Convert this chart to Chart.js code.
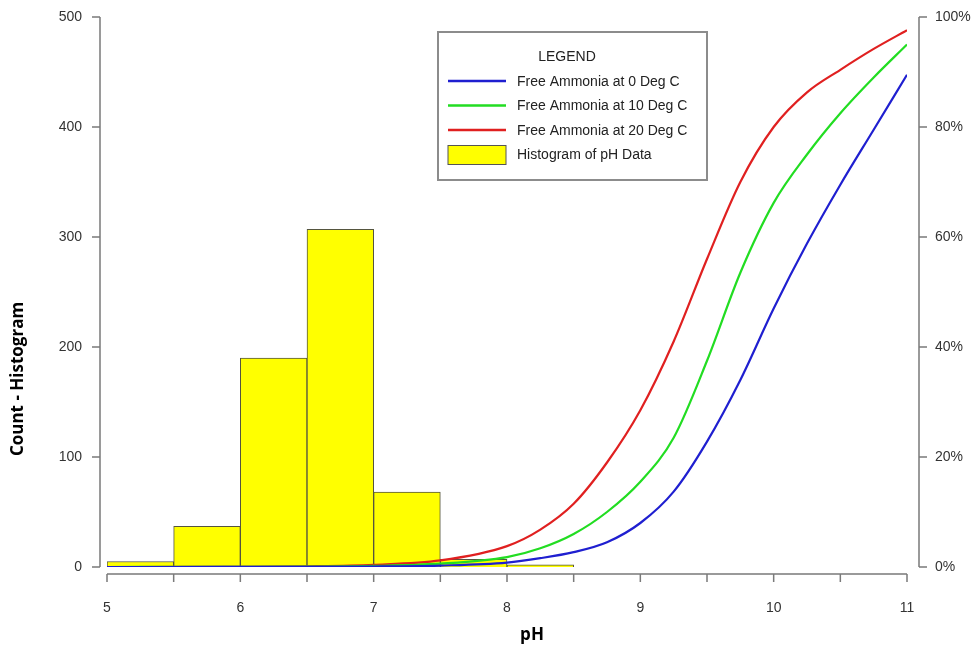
<!DOCTYPE html>
<html>
<head>
<meta charset="utf-8">
<script src="https://cdn.jsdelivr.net/npm/chart.js@4.4.1/dist/chart.umd.min.js"></script>
<style>
  html, body { margin: 0; padding: 0; background: #fff; overflow: hidden; }
  #chart { display: block; }
</style>
</head>
<body>
<canvas id="chart" width="977" height="651"></canvas>
<script>
// histogram of pH readings (bin start, width 0.5)
const binStarts = [5, 5.5, 6, 6.5, 7, 7.5, 8];
const binCounts = [5, 37, 190, 307, 68, 7, 2];

// free ammonia fraction (%)
const phPoints = [5, 5.5, 6, 6.5, 7, 7.5, 8, 8.25, 8.5, 8.75, 9, 9.25, 9.5, 9.75, 10, 10.25, 10.5, 10.75, 11];
const free0C  = [0, 0, 0.01, 0.03, 0.08, 0.26, 0.8, 1.6, 2.7, 4.5, 8, 13.7, 22.8, 34, 47, 58.8, 69.5, 79.5, 89.5];
const free10C = [0, 0.01, 0.02, 0.06, 0.19, 0.6, 1.8, 3.4, 6, 10, 15.5, 23.5, 37.5, 53.5, 66.2, 75, 82.5, 89, 95];
const free20C = [0, 0.01, 0.04, 0.13, 0.4, 1.2, 3.8, 6.8, 11.5, 19, 28.5, 41, 56, 70, 80, 86.3, 90.4, 94.2, 97.6];

const countTicks = [0, 100, 200, 300, 400, 500];
const pctTicks = [0, 20, 40, 60, 80, 100];

const BIN_W = 0.5;
const AXIS_GREY = '#7a7a7a';
const TICK_FONT = { family: 'Liberation Sans, Arial, sans-serif', size: 14 };

function curve(vals) {
  return phPoints.map((p, i) => ({ x: p, y: vals[i] }));
}

function noPad(s) {
  s.paddingTop = 0;
  s.paddingBottom = 0;
  s.paddingLeft = 0;
  s.paddingRight = 0;
}

// R-style detached axes, titles and the boxed legend
const decorPlugin = {
  id: 'decor',
  afterDraw(chart) {
    const ctx = chart.ctx;
    const { x, y, y2 } = chart.scales;
    const area = chart.chartArea;
    ctx.save();
    ctx.strokeStyle = AXIS_GREY;
    ctx.lineWidth = 1.5;

    // bottom axis
    const ax = area.bottom + 7;
    ctx.beginPath();
    ctx.moveTo(x.getPixelForValue(5), ax);
    ctx.lineTo(x.getPixelForValue(11), ax);
    for (let v = 5; v <= 11.001; v += 0.5) {
      const px = x.getPixelForValue(v);
      ctx.moveTo(px, ax);
      ctx.lineTo(px, ax + 8);
    }
    ctx.stroke();

    // left axis
    const lx = area.left - 7;
    ctx.beginPath();
    ctx.moveTo(lx, y.getPixelForValue(0));
    ctx.lineTo(lx, y.getPixelForValue(500));
    countTicks.forEach(v => {
      const py = y.getPixelForValue(v);
      ctx.moveTo(lx, py);
      ctx.lineTo(lx - 8, py);
    });
    ctx.stroke();

    // right axis
    const rx = area.right + 12;
    ctx.beginPath();
    ctx.moveTo(rx, y2.getPixelForValue(0));
    ctx.lineTo(rx, y2.getPixelForValue(100));
    pctTicks.forEach(v => {
      const py = y2.getPixelForValue(v);
      ctx.moveTo(rx, py);
      ctx.lineTo(rx + 8, py);
    });
    ctx.stroke();

    // axis titles
    ctx.fillStyle = '#000';
    ctx.font = 'bold 17px "Open Sans", sans-serif';
    ctx.textAlign = 'center';
    ctx.textBaseline = 'middle';
    ctx.fillText('pH', 532, 635);
    ctx.translate(18, 379);
    ctx.rotate(-Math.PI / 2);
    ctx.fillText('Count - Histogram', 0, 0);
    ctx.setTransform(1, 0, 0, 1, 0, 0);

    // legend box
    const bx = 438, by = 32, bw = 269, bh = 148;
    ctx.fillStyle = '#fff';
    ctx.fillRect(bx, by, bw, bh);
    ctx.strokeStyle = '#8c8c8c';
    ctx.lineWidth = 2;
    ctx.strokeRect(bx, by, bw, bh);

    ctx.fillStyle = '#222';
    ctx.font = '14px "Liberation Sans", Arial, sans-serif';
    ctx.textAlign = 'center';
    ctx.fillText('LEGEND', 567, 57);

    const ds = chart.data.datasets;
    const entries = [ds[1], ds[2], ds[3], ds[0]];
    ctx.textAlign = 'left';
    entries.forEach((d, i) => {
      const ey = 81 + i * 24.5;
      if (d.type === 'line') {
        ctx.strokeStyle = d.borderColor;
        ctx.lineWidth = 2.5;
        ctx.beginPath();
        ctx.moveTo(448, ey);
        ctx.lineTo(506, ey);
        ctx.stroke();
      } else {
        ctx.fillStyle = d.backgroundColor;
        ctx.fillRect(448, ey - 9, 58, 19);
        ctx.strokeStyle = '#555';
        ctx.lineWidth = 1;
        ctx.strokeRect(448, ey - 9, 58, 19);
      }
      ctx.fillStyle = '#222';
      ctx.fillText(d.label, 517, ey + 1);
    });
    ctx.restore();
  }
};

new Chart(document.getElementById('chart'), {
  type: 'bar',
  data: {
    datasets: [
      {
        type: 'bar',
        label: 'Histogram of pH Data',
        data: binStarts.map((s, i) => ({ x: s + BIN_W / 2, y: binCounts[i] })),
        backgroundColor: '#ffff00',
        borderColor: '#55553f',
        borderWidth: 1,
        barPercentage: 1,
        categoryPercentage: 1,
        yAxisID: 'y',
        order: 2
      },
      {
        type: 'line',
        label: 'Free Ammonia at 0 Deg C',
        data: curve(free0C),
        borderColor: '#1f1fd0',
        borderWidth: 2.2,
        pointRadius: 0,
        cubicInterpolationMode: 'monotone',
        yAxisID: 'y2',
        order: 1
      },
      {
        type: 'line',
        label: 'Free Ammonia at 10 Deg C',
        data: curve(free10C),
        borderColor: '#22dd22',
        borderWidth: 2.2,
        pointRadius: 0,
        cubicInterpolationMode: 'monotone',
        yAxisID: 'y2',
        order: 1
      },
      {
        type: 'line',
        label: 'Free Ammonia at 20 Deg C',
        data: curve(free20C),
        borderColor: '#e02020',
        borderWidth: 2.2,
        pointRadius: 0,
        cubicInterpolationMode: 'monotone',
        yAxisID: 'y2',
        order: 1
      }
    ]
  },
  options: {
    responsive: false,
    animation: false,
    maintainAspectRatio: false,
    layout: { padding: { top: 17, left: 0, right: 0, bottom: 0 } },
    plugins: {
      legend: { display: false },
      tooltip: { enabled: false }
    },
    scales: {
      x: {
        type: 'linear',
        min: 5,
        max: 11,
        offset: false,
        grid: { display: false, drawTicks: false },
        border: { display: false },
        ticks: { stepSize: 1, padding: 33, color: '#333', font: TICK_FONT, maxRotation: 0 },
        afterFit(s) { s.height = 84; noPad(s); }
      },
      y: {
        position: 'left',
        min: 0,
        max: 500,
        grid: { display: false, drawTicks: false },
        border: { display: false },
        ticks: { stepSize: 100, padding: 25, color: '#333', font: TICK_FONT },
        afterFit(s) { s.width = 107; noPad(s); }
      },
      y2: {
        position: 'right',
        min: 0,
        max: 100,
        grid: { display: false, drawTicks: false },
        border: { display: false },
        ticks: { stepSize: 20, padding: 28, color: '#333', font: TICK_FONT, callback: v => v + '%' },
        afterFit(s) { s.width = 70; noPad(s); }
      }
    }
  },
  plugins: [decorPlugin]
});
</script>
</body>
</html>
